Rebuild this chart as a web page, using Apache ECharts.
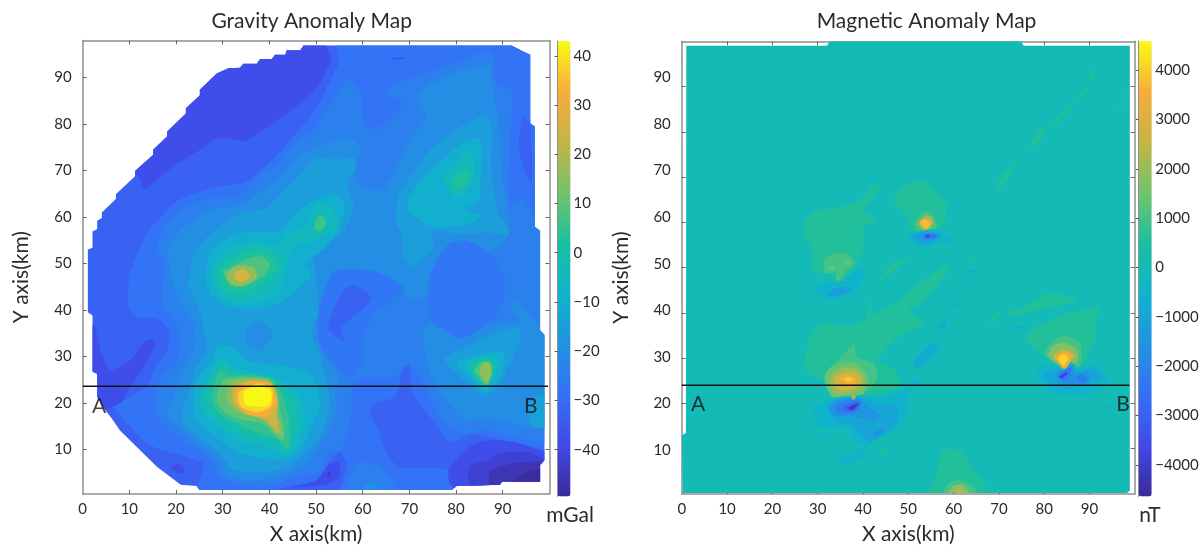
<!DOCTYPE html>
<html><head><meta charset="utf-8">
<script src="https://cdn.jsdelivr.net/npm/echarts@6/dist/echarts.min.js"></script>
<style>html,body{margin:0;background:#fff}#c{width:1203px;height:550px}canvas{filter:blur(.45px)}</style></head>
<body><div id="c"></div><script>
const tickValues=[10,20,30,40,50,60,70,80,90];
const xTickValues=[0,10,20,30,40,50,60,70,80,90];
const gravityTicks=[40,30,20,10,0,-10,-20,-30,-40];
const magneticTicks=[4000,3000,2000,1000,0,-1000,-2000,-3000,-4000];
const parula=['#3b2a98','#4049e8','#3570f8','#2192e2','#0fb4cc','#18c0a0','#72c46a','#c5b445','#f8ac3a','#f9fb15'];

const gravityOutline=[[1.1,39.5],[1.1,53],[2.1,53.4],[2.1,56.9],[3.1,57.4],[3.1,59.2],[4.1,59.8],[4.1,61],[7.1,63.9],[7.1,64.9],[11.2,68.8],[11.2,69.9],[15.1,73.4],[15.1,74.5],[18.1,77.4],[18.1,78.4],[22.1,82.3],[22.1,83.4],[25.1,86.2],[25.1,87.4],[28.7,90.9],[31.2,92],[33.7,92.1],[34.4,93],[37.3,93],[38,94],[40.5,94],[41.2,94.9],[43.4,94.9],[43.7,95.9],[46.6,95.9],[47.3,96.9],[91.9,96.9],[94.4,95.6],[95.9,94.9],[95.9,80.2],[96.9,79.5],[96.9,57.9],[98,57],[98,35.6],[98.9,34.7],[98.9,7.7],[98,6.7],[98,3.1],[89.8,3.1],[89.4,2.4],[80.1,2.15],[79.1,1.3],[25,1.3],[24.4,2.15],[21,2.4],[15.9,6.3],[8,14.1],[6.2,16.7],[5.1,18.1],[3.1,21.3],[3.1,26.3],[2.1,26.7],[2.1,38.8]];
const gravityContours=[
[-33,gravityOutline],
[-38,[[12.6,67.7],[13,65.9],[19.4,70.9],[25.1,74.5],[28,76.6],[30.9,77],[34.8,76.4],[42.3,81.3],[48,85.6],[51,89],[52,91.3],[53.2,93.4],[51.8,97.5],[47,99],[43,98],[40,97],[37,96],[33,95],[28,93],[24,89],[20,84],[16,79],[13,75],[11,70]]],
[-28,[[24,0],[100,0],[100,100],[54,100],[54.8,93.4],[52.6,88.4],[49.8,83],[41.6,73.4],[35.1,67.7],[28,66.3],[20.1,63.4],[13.7,56.3],[10.1,47.7],[9.8,40.6],[12,38.4],[15.9,38.1],[18.4,35.6],[18.4,32],[15.5,27.7],[13.7,23.4],[7.3,19.9],[6.6,19.1],[13,12],[16.6,9.9],[22.3,8.4],[25.9,7],[25.1,3.4]]],
[-24,[[17.3,49.9],[15.9,53.4],[18,58.8],[23.7,63.1],[28,64.1],[33.7,64.5],[37.3,68.4],[41.6,71.3],[45.1,75.5],[49.8,79.1],[53.4,84.9],[56.6,89.5],[59.1,87.7],[60.1,84.9],[59.8,81.3],[62.6,78.8],[68.4,84.1],[65.1,87],[65.9,88.4],[70.5,89.9],[78.4,92.7],[86.9,95.9],[88,94.9],[88.7,88.4],[91.9,87.4],[91.6,76.3],[91.6,62.7],[94.1,64.1],[97,60],[100,57],[100,12],[86.2,14.2],[81.9,13.4],[76.9,16.3],[72.6,25.2],[70.5,27.7],[68.7,27.7],[66.9,25.6],[58.4,24.9],[57.6,18.4],[56.9,14.2],[55.5,9.9],[52.6,9.5],[50.9,5.2],[45.1,4.2],[39.4,2],[33.7,2.4],[29.4,4.2],[27.6,7.7],[23.7,10.6],[19.4,13.4],[15.5,17.7],[15.9,22.7],[17.3,26.3],[19.8,28.4],[20.9,32.7],[19.8,37],[17.3,40.6],[16.9,42.7]]],
[-20,[[19,47],[18.4,53.4],[20.9,57],[26.6,61.3],[34.4,62.7],[37.3,64.9],[41.6,67.7],[45.9,72.7],[49.8,74.9],[56.9,77],[59.4,74.9],[58.4,69.1],[60.1,66.3],[64.4,65.9],[70.5,77],[73.7,81.3],[71.9,86.3],[78.4,90.6],[86.9,92.7],[87.6,89.9],[89.4,77.7],[89.8,69.1],[91.4,56.3],[86.9,52.4],[82.3,54.9],[78.4,54.1],[74.4,47.7],[74.1,43.1],[68.7,43.1],[69.1,45.2],[61.9,48.4],[54.1,48.4],[51.2,42.7],[50.1,37.7],[51.2,31.3],[54.8,25.6],[54,22.7],[54.4,18.4],[53.4,15.6],[50.9,11.3],[48,7],[42.3,4.2],[36.6,3.4],[30.9,4.2],[29.4,7.7],[25.9,10.6],[21.6,14.2],[18,17.7],[19.4,21.3],[21.6,27],[24.1,32.7],[23.7,37],[20.9,42]]],
[-20,[[73,35.6],[73.7,29.1],[75.1,24.9],[78.4,19.9],[81.9,16.3],[86.9,16.7],[95.5,14.9],[100,15.6],[100,35],[98,36.5],[95.5,39.2],[92.6,42],[91.9,40.6],[93.4,37.7],[87,36.7],[82.6,34.5],[80.5,33.8],[78.4,35.6],[74.4,37.4]]],
[-27,[[54,48.4],[61.9,48.4],[68.7,45.2],[66.9,42.7],[61.6,38.4],[60.1,33.1],[60.9,30.6],[57.6,25.2],[54,28.4],[50.5,33.8],[50.5,38.4],[52.6,45.6]]],
[-27,[[74.4,47.7],[78.4,54.1],[82.3,54.9],[86.9,52.4],[89.8,49],[90.5,47],[89.8,41.3],[86.9,37],[82.6,34.5],[80.5,33.8],[78.4,35.2],[74.8,37.4],[74.1,42.7]]],
[-33,[[58.4,45.4],[61.9,42.4],[57,37.7],[55.5,36.3],[55.9,33.4],[52.6,36],[54,40.6],[56.2,44.5]]],
[-33,[[94.4,81.6],[95.9,79.9],[96.2,67],[94.1,71.6],[93.5,76.3]]],
[-15,[[23,47.7],[24.1,52.7],[28,57],[33.7,60.6],[39.4,62],[43,65.6],[46.6,69.1],[49.8,72.7],[54.1,72.4],[58,72.7],[58.4,70.6],[56.6,67],[58,62.4],[56.2,57],[54.1,55.6],[49.8,52.7],[50.1,46.3],[50.5,39.2],[49.1,34.5],[50.9,30.2],[52,26.3],[53,19.9],[51.9,14.9],[49.8,11.3],[45.1,7],[40.1,5.2],[32.3,5.6],[29.4,9.2],[24.8,12.7],[21.2,16.3],[22.3,21.3],[24.1,27],[26.6,32],[26,36],[24.8,40.6],[22.6,45.6]]],
[-15,[[86.2,82],[87.5,80.2],[87.6,70.6],[88.7,62],[91.4,56.3],[86.9,56.6],[80.5,56.3],[75.1,57],[75.1,53.4],[72.6,50.6],[70.5,49.5],[68.7,51.3],[68.4,56.3],[67.3,58.4],[67.5,64.1],[70.5,69.1],[74.1,74.1],[80.5,79.1]]],
[-15,[[77.6,29.5],[83.4,32.7],[92.6,36.3],[94.1,34.5],[91.9,29.2],[89.4,23.8],[86.2,21.6],[81.2,25.2]]],
[-14,[[95.5,19.2],[96.9,21.3],[100,22],[100,14.9],[96.2,14.9]]],
[-10,[[85.1,77],[85.3,68.4],[84.8,63.4],[81.9,61.6],[85.5,60.2],[81.9,58.4],[74.8,57.9],[69.8,61.3],[69.8,63.4],[72.6,68.4],[77.6,72.7],[81.2,75.9]]],
[-3,[[82.3,74.5],[83.7,72.7],[83.9,68.4],[80.5,64.1],[78.7,65.6],[77.3,68.4],[80.5,72]]],
[3,[[82.3,70.2],[82.8,68.4],[80.5,65.9],[79.2,67.7]]],
[-10,[[26.2,47.7],[28,53.4],[33,56.3],[38,57],[42.3,57],[45.9,61.3],[49.4,63.4],[53.4,64.9],[56.2,62.7],[54.8,57],[52,53.4],[47.7,50],[49,47.7],[45.9,44.2],[41.7,41.3],[37,40.2],[31.6,40.6],[27.7,43.1]]],
[-10,[[29,32.4],[27.6,29.2],[24.4,24.9],[23.7,19.9],[24.4,16.3],[29.4,12],[33.7,9.2],[42.3,7.7],[46.6,9.9],[49.4,15.6],[50.9,19.9],[49.4,25.6],[45.1,27.7],[39.4,28.4],[35.1,29.2],[32.3,32]]],
[-20,[[35.1,36.3],[37.6,37.7],[40.9,34.9],[38,31.3],[35.5,32],[34.8,34.9]]],
[-5,[[27.7,47.7],[28.4,50.6],[31.6,53.4],[37.3,54.9],[41.6,54.1],[43.7,56.3],[48,58.4],[49.8,62.4],[52.6,62.7],[54.8,59.1],[53.4,57],[50.5,55.2],[45.1,53.4],[43.7,49.9],[43.4,47.7],[41.6,43.4],[36,41.3],[30.9,42],[28,45.6]]],
[-10,[[45.1,53.4],[46.2,52.7],[45.5,51.3],[44.8,51.6]]],
[-1,[[28.7,47.7],[30.1,50.6],[33.7,52.7],[38,53.8],[41.2,52.7],[42.6,50],[41,47],[37.6,43.4],[33,42.7],[29.4,44.9],[28,47.7]]],
[3,[[30.9,49.9],[33.7,51.6],[38,52.7],[40.5,51.3],[41.9,49.1],[39.6,47],[36.7,44.9],[33,43.8],[30.1,45.6],[29.4,48.4]]],
[8,[[31.6,49.1],[34.4,50.6],[38,51.6],[40.1,49.9],[39.1,47.7],[35.9,45.6],[33,44.9],[30.9,46.3],[30.1,48.4]]],
[16,[[36.6,49.2],[37.3,47],[34.4,45.2],[31.6,45.6],[30.9,47.7],[33,49.5]]],
[26,[[34.4,48.8],[35.9,47.4],[34.1,46],[32.6,46.7],[32.6,48.1]]],
[0,[[50.9,61.3],[52.3,59.9],[51.9,57],[49.8,56.3],[49.5,59]]],
[6,[[51.2,60.2],[52.3,58.8],[50.9,57],[49.8,57.7],[50,59.5]]],
[-5,[[29.4,29.9],[26.6,24.9],[24.8,20.6],[25.9,17.7],[30.1,14.2],[34.4,11.6],[39.4,10.6],[43.7,8.8],[45.9,11],[47.3,15.6],[46.6,21.3],[42.3,25.2],[38,26.3],[33,27.4],[30.9,28.8]]],
[0,[[29.8,28.4],[27.6,25.6],[26.2,21.3],[27.3,18.1],[31.6,14.9],[35.9,12.7],[40.1,12],[44.1,9.5],[45.1,12],[45.9,15.6],[45.1,20.6],[41,25.2],[37.3,26],[32.3,26.7]]],
[5,[[29.4,27],[28.4,24.9],[27.6,20.6],[29.4,17.7],[33,15.6],[38,13.4],[41.6,12.4],[43.7,10.2],[44.4,12.4],[44.1,17],[43,21.3],[40.5,25.2],[36.6,26],[31.6,26]]],
[10,[[30.1,24.9],[28.7,20.6],[30.9,17.7],[34.4,16.3],[38.6,15.6],[41.6,12.7],[43,12],[43.1,14.9],[42.3,18.4],[41.6,22.7],[39.4,25.2],[34.4,25.6]]],
[16,[[31.6,24.5],[30.9,20.6],[33,18.1],[38,16.7],[40.9,14.2],[42.6,13.1],[42.6,14.9],[41.6,18.4],[41.6,22],[40.1,24.9],[35.1,25.2]]],
[24,[[32.3,23.4],[32.3,20.2],[34.4,18.1],[39.4,16.3],[41.9,13.4],[41.6,17],[41.9,20.6],[40.5,24.1],[36.6,24.9]]],
[32,[[32.7,22.8],[33,19.7],[35.9,17.3],[39.7,17.2],[41.6,20.2],[40.1,24.2],[35.4,24.6]]],
[38,[[33.4,22.2],[33.8,19.3],[37.3,18],[40.4,19.3],[40.6,23],[37.6,24.2]]],
[42.5,[[34.5,22.3],[35,19.6],[39.8,19.4],[40.4,22.5],[37.5,23.8]]],
[-10,[[80.1,28.8],[83.4,30.2],[90.1,30.9],[90.5,29.2],[88.7,24.2],[86.2,22.4],[83.4,24.9]]],
[-5,[[81.9,28.4],[84.8,29.9],[88.4,30.2],[89.1,28.4],[87.6,24.2],[86.2,23.1],[83.7,25.2]]],
[2,[[83,27.7],[84.8,29.2],[87.3,29.5],[88.4,27.7],[87.3,24.5],[86.2,23.8],[84.1,25.6]]],
[8,[[83.9,27],[85.5,28.8],[87.3,28.8],[87.6,26.3],[86.6,23.8],[84.8,25.6]]],
[16,[[85.1,27],[85.9,28.7],[87.3,28.4],[87.6,26.3],[86.6,24.2],[85.5,25.6]]],
[-24,[[56.9,0],[57.3,4.2],[59.8,7.4],[63.4,6.3],[66.2,3.4],[67.3,0]]],
[-20,[[59,0],[61.9,3.4],[64.1,0]]],
[-33,[[61.9,19.2],[63,20.2],[66.9,21.3],[68,24.9],[69.1,28.1],[70.1,28.1],[70.5,22.7],[73.4,18.4],[77.6,12.7],[79.1,11.6],[83.4,13.4],[89.8,12],[99,9.9],[100,9.9],[100,1],[80,1.5],[78.6,2.7],[78.4,5.6],[74.8,6],[67.6,6.3],[64.8,9.9],[63.4,14.2],[61.9,17]]],
[-38,[[78.4,5.6],[80.5,8.4],[83.4,11],[87.6,12],[92.6,11.6],[99,9.5],[100,9.5],[100,1],[80,1.5],[78.6,2.7]]],
[-42,[[82.6,4.2],[83,6.6],[86.9,7.7],[89.1,9.2],[95.5,9.5],[98.4,8.1],[100,7],[100,1],[83.4,1]]],
[-46,[[87.3,5.2],[92,7],[97.6,7.4],[100,7.4],[100,1],[87.6,1]]],
[-49,[[92,3],[95.5,5.2],[97.8,5.7],[100,5.7],[100,1],[93,1]]],
[-33,[[39.4,0.5],[45.1,2.4],[50.9,3.4],[52.6,7],[55.1,9.5],[56.6,7],[55.9,3.4],[54,0.5]]],
[-38,[[50.1,3.4],[52.6,6.6],[54.8,7.4],[55.1,4.2],[52.6,2.7],[49.8,2.1],[45,1.9]]],
[-44,[[52.4,4.8],[53,5.2],[53,4.2],[52.5,4.2]]],
[-38,[[18.9,6.2],[20.5,6.8],[22,5.4],[20.6,4.8]]],
[-38,[[2.3,37],[4.1,30.6],[5.9,27.1],[10.1,29.2],[13.4,33.4],[15.1,33.6],[15.3,32],[13,27.7],[10.1,23.4],[8.4,20.2],[4.8,18.4],[3,16],[1,22],[1,27],[0.5,30]]],
[-36,[[65.9,94.2],[69.4,94.2],[67.7,93.8]]]
];

const magneticOutline=[[1,99],[32,99],[32.7,100],[74.8,100],[75.5,99],[98.9,99],[98.9,0.8],[98.3,0.2],[0.2,0.2],[0,13],[0.9,13.5]];
const magneticContours=[
[0,magneticOutline],
[600,[[26.8,59.4],[29,62.3],[34.9,63.4],[39.3,64.8],[41.9,67.8],[43.8,68.1],[41.9,65.2],[40.1,62.6],[43,60.5],[40.1,59],[40.1,54.2],[38.2,50.6],[36,46.9],[32.7,48.4],[29.4,49.1],[28.7,51.3],[29,54.2],[27.2,56.4]]],
[1000,[[31.2,51.3],[33.5,53.1],[36.4,53.1],[38.2,51],[36,49.1],[34.6,46.9],[33.8,47.7],[34.2,49.1],[32,48.8]]],
[1500,[[32.4,50.2],[33.8,50.2],[33.1,49.5]]],
[1500,[[36,51.2],[37.5,51.2],[36.8,50.6]]],
[-500,[[29,46.2],[32.7,46.9],[34.9,46.6],[36.8,48.4],[40.1,49.8],[40.4,47.7],[37.9,44.4],[32.7,43.1],[30.1,44]]],
[-1200,[[32.3,44.6],[35.3,45.8],[37.5,45.3],[35.7,44.1],[32.7,43.6]]],
[600,[[46.7,64.8],[48.9,68.1],[53.3,69.2],[56.3,66.7],[58.5,63.7],[57.7,59.4],[56.3,57.9],[51.1,57.9],[49.6,61.5]]],
[1000,[[51.5,60.1],[53.3,62.3],[54.8,62.3],[56.3,60.1],[55.9,58.3],[51.8,58.3]]],
[2000,[[52.2,59.7],[53.7,61.5],[55.2,61.2],[55.5,59.4],[54,58.3],[53,58.6]]],
[3000,[[52.4,60.1],[53.5,60.9],[55.2,60.4],[54.4,58.6],[53.7,58]]],
[3800,[[52.7,60.1],[53.7,60.5],[54.8,59.7],[54.1,58.6],[53.3,59.2]]],
[-500,[[50,56.8],[53.3,58.3],[57,58.3],[59.9,56.1],[58.5,55.3],[56.3,55.3],[53.3,54.2],[51.1,55]]],
[-1200,[[50.7,56.8],[53.3,57.9],[57,57.5],[56.6,56.1],[53.3,55.3]]],
[-2500,[[53.3,57.3],[56.3,57.3],[55.9,56.6],[53.7,56.3]]],
[-3800,[[53.7,57.2],[54.8,57.2],[54.4,56.6]]],
[600,[[43.4,46.9],[46,50.6],[50,52.4],[46.7,49.1],[44.1,46.9]]],
[600,[[27,28.1],[28.7,35.8],[32.1,37.7],[37.2,37],[40.6,38.9],[41.9,43.9],[41.9,39.6],[46.6,42],[52.1,46.2],[54.7,48.1],[58.5,50.8],[58.9,49.7],[56,45.8],[52.6,42],[50,40.8],[53.4,37.7],[48.3,35],[45.3,32.3],[43.2,29.6],[46.6,27.7],[48.3,24.2],[44.9,22.3],[38.1,21.9],[33.8,20.8],[32.1,24.2],[28.3,26.5]]],
[1000,[[32.1,27.3],[33.8,28.9],[38.1,33.1],[38.5,30.4],[42.3,28.9],[43.2,25.8],[41.5,23.1],[38.1,22.3],[33.8,21],[32.1,24.2]]],
[1400,[[31.6,26.5],[34.2,28.6],[38.6,29],[41.2,25.7],[40.1,22.1],[37.5,21.7],[33.5,21],[32,23.5]]],
[2000,[[32.7,25.4],[34.6,27.6],[38.2,27.9],[40.4,25.7],[39.7,23.2],[37.5,22.4],[33.8,22.1]]],
[2800,[[33.5,25.4],[35.7,26.8],[38.2,26.8],[39.7,25.4],[38.6,23.5],[36.4,22.8],[34.2,23.2]]],
[3400,[[34.6,25.4],[36.4,26.3],[38.2,25.7],[38.2,24.3],[36,23.9]]],
[3900,[[35.7,25.4],[36.8,25.9],[37.9,25.4],[36.8,24.6]]],
[-500,[[29,19.1],[32.3,21],[37.5,21.7],[43.8,21.3],[48.5,22.8],[51.5,25.4],[52.2,25],[50,21.3],[50,17.3],[47.4,14.4],[42.3,11.8],[40.1,10.7],[37.5,12.2],[36.8,14.8],[31.2,14.4],[29,17]]],
[-1000,[[32,19.1],[34.2,21],[39.7,21.3],[43,20.2],[47.8,19.5],[47.4,15.5],[43.8,12.6],[41.2,11.5],[37.9,14.8],[33.8,16.2]]],
[-1500,[[32.4,18.8],[34.2,20.6],[39.3,21.2],[41.2,19.1],[43.8,17.3],[42.3,16.2],[38.6,17],[33.8,17.3]]],
[-2200,[[33.8,19.1],[35.7,20.5],[39.3,20.6],[39.3,18.8],[36.8,17.8],[34.6,17.8]]],
[-3000,[[35.7,19.3],[38.2,20.2],[39.3,20.2],[38.2,18.4],[36.4,18.3]]],
[-4200,[[36.8,19.1],[38.2,19.7],[39,20],[38,18.8],[37.1,18.6]]],
[2500,[[37.3,21.7],[38.5,21.7],[37.9,20.8]]],
[-1500,[[42.3,13.7],[44.1,14.4],[44.5,13.3],[42.7,12.7]]],
[-500,[[29.4,13.3],[31.6,13.3],[31,12.3]]],
[-600,[[34.2,7.5],[37.9,8.5],[40.1,10.7],[40.8,10.7],[40.4,9.3],[39,7.4],[34.9,6.6]]],
[600,[[43.8,10],[44.5,10.2],[45.6,8.9],[44.9,8.8]]],
[-800,[[51.1,28.3],[51.5,29.7],[54.8,33],[57,32.7],[55.5,30.5],[52.6,27.9]]],
[600,[[75.9,33.9],[76.8,35.8],[81.5,38.5],[85.3,40],[90.8,40.8],[92.1,41.6],[91.2,37.3],[91.7,35],[89.5,30.4],[87.8,28.1],[84,28.9],[81.5,29.6],[78.1,31.9]]],
[600,[[72.5,40.4],[75.5,41.2],[81,44.3],[87.4,43.1],[84.9,42],[81,41.2],[72.5,39.3]]],
[1000,[[80.2,30.8],[81.3,33],[84.2,35.1],[87.9,33.4],[88.3,30.1],[87.2,27.2],[85,27.5],[83.1,28.3]]],
[1700,[[80.9,30.5],[82,32.7],[84.2,33.4],[86.8,32.3],[87.5,30.1],[86.4,28.3],[85,28.3],[83.1,28.7]]],
[-500,[[78.3,26.5],[79.8,28.3],[83.1,28.3],[84.2,27.6],[85.7,29.4],[87.5,27.9],[91.2,28.3],[94.5,25.7],[93.8,23.9],[87.9,21.7],[84.2,21.7],[79.8,23.9]]],
[2600,[[82,30.5],[83.9,31.9],[85.7,31.6],[86.8,30.5],[85.7,29],[84.6,27.5],[83.1,29]]],
[3400,[[82.4,30.1],[84.2,31.4],[86,31],[85.7,29.4],[84.2,27.8],[83.1,29]]],
[4100,[[83.1,30.1],[84.2,30.8],[85.3,30.1],[84.2,28.3]]],
[-1000,[[79.8,26.5],[82.8,27.6],[84.6,27.6],[86,28.6],[87.2,27.2],[90.9,27.6],[92.7,25.7],[87.9,23.5],[84.2,23.2],[81.3,24.3]]],
[-1600,[[82.8,26.5],[84.6,27.6],[86,28.3],[86.8,26.5],[89.7,26.8],[89.7,24.6],[86.4,24.3],[83.1,24.6]]],
[-2400,[[83.1,26.1],[85,27.6],[86,27.9],[85.7,26.1],[84.2,25]]],
[-2200,[[87.2,25.7],[88.3,26.5],[89.4,25.4],[88.3,24.6]]],
[-3800,[[83.3,25.9],[85,27],[85.1,26.5],[83.9,25.6]]],
[-1000,[[93.4,19.5],[94.5,19.1],[93.8,18.8]]],
[600,[[54.1,-1],[56.3,4.5],[57.7,9.6],[61.4,9.6],[64.4,5.3],[66.9,2.3],[66.6,-1]]],
[1000,[[57.7,-1],[58.8,2.3],[61.4,3.1],[64.4,1.6],[65.5,-1]]],
[1800,[[58.5,-1],[60,1.8],[62.2,2],[64,-1]]],
[2600,[[60.1,-1],[61.4,1.2],[62.9,-1]]],
[600,[[69.6,67],[70,69.3],[74.2,73.6],[72.1,69.7]]],
[600,[[76.8,76.7],[78.9,80.5],[80.6,80.7],[78.1,77]]],
[600,[[81,81.3],[86.1,86.1],[86.1,85.1],[81.9,81.3]]],
[600,[[86.6,87.1],[89.5,90.2],[89.3,88.8],[87,86.9]]],
[600,[[89.8,92.1],[91.2,93.9],[91.2,92.7],[90.1,91.5]]],
[600,[[96.1,85.1],[97.4,87.1],[96.8,85.1]]],
[600,[[97.6,88.2],[98.9,90.2],[98.9,88.8]]],
[600,[[67.4,37.7],[70.4,40.3],[70.4,39.3],[68.3,37.7]]],
[600,[[62.8,52],[65.3,52],[64,51.6]]],
[-800,[[62.8,49.3],[65.3,49.3],[64,48.8]]],
[-800,[[58.1,42.1],[61.5,42.1],[59.8,41.6]]],
[-800,[[56.8,36.9],[58.5,38.9],[58.1,36.6]]],
[-800,[[72.5,37],[76.4,37],[74.7,36.6]]],
[-500,[[32,55.2],[34.6,55.2],[33.3,54.8]]]
];
const gravityLine=[[0,23.6],[99.7,23.6]];
const magneticLine=[[0,24],[98.8,24]];
const gravityMarks=[[3.5,19.4,'A'],[96,19.4,'B']];
const magneticMarks=[[3.6,19.8,'A'],[97.4,19.8,'B']];

const FONT='Lato, "Open Sans", sans-serif', INK='#2b2b2b', FRAME='#8f8f8f';
const fix=s=>String(s).replace('-','\u2212');
function valAxis(o){return Object.assign({type:'value',splitLine:{show:false},axisLine:{show:true,onZero:false,lineStyle:{color:FRAME,width:1.5}},axisTick:{show:true,inside:true,length:4,lineStyle:{color:'#666'}},axisLabel:{show:false}},o);}
function frameX(grid,main){const tick={show:true,inside:true,length:4,lineStyle:{color:'#666'},customValues:tickValues};
 return valAxis({gridIndex:grid,min:0,max:100,position:main?'bottom':'top',axisTick:tick,
  axisLabel:main?{show:true,customValues:xTickValues,color:INK,fontFamily:FONT,fontSize:15,margin:8}:{show:false},
  name:main?'X axis(km)':'',nameLocation:'middle',nameGap:30,nameTextStyle:{color:INK,fontFamily:FONT,fontSize:21}});}
function frameY(grid,min,max,pos){const tick={show:true,inside:true,length:4,lineStyle:{color:'#666'},customValues:tickValues};
 return valAxis({gridIndex:grid,min:min,max:max,position:pos,axisTick:tick});}
function labelY(grid,min,max,gap){return valAxis({gridIndex:grid,min:min,max:max,position:'left',axisLine:{show:false},axisTick:{show:false},
  axisLabel:{show:true,customValues:tickValues,color:INK,fontFamily:FONT,fontSize:15,margin:11},
  name:'Y axis(km)',nameLocation:'middle',nameGap:gap,nameTextStyle:{color:INK,fontFamily:FONT,fontSize:21,padding:[0,20,0,0]}});}
function barY(grid,min,max,ticks){return valAxis({gridIndex:grid,min:min,max:max,position:'right',z:10,
  axisLine:{show:true,lineStyle:{color:FRAME,width:1}},
  axisTick:{show:true,inside:true,length:3,lineStyle:{color:'#555'},customValues:ticks},
  axisLabel:{show:true,customValues:ticks,formatter:fix,color:INK,fontFamily:FONT,fontSize:15,margin:3}});}
function bands(contours,outline,xi,yi,name){return {type:'custom',name:name,coordinateSystem:'cartesian2d',xAxisIndex:xi,yAxisIndex:yi,silent:true,clip:true,
  data:contours.map((c,i)=>[c[0],i]),dimensions:['level','band'],encode:{x:-1,y:-1},
  renderItem:(p,api)=>{const i=api.value(1),pts=contours[i][1].map(q=>api.coord(q));
    const base=i===0;
    return {type:'polygon',shape:{points:pts,smooth:base?0:0.22},
      clipPath:base?undefined:{type:'polygon',shape:{points:outline.map(q=>api.coord(q))}},
      style:{fill:api.visual('color')}};}};}
function hline(data,xi,yi){return {type:'line',data:data,xAxisIndex:xi,yAxisIndex:yi,symbol:'none',silent:true,lineStyle:{color:'#111',width:1.5},z:5};}
function marks(data,xi,yi){return {type:'scatter',data:data,xAxisIndex:xi,yAxisIndex:yi,symbolSize:0,silent:true,z:6,
  label:{show:true,position:'inside',formatter:p=>p.value[2],color:'#111',fontFamily:FONT,fontSize:21}};}
function vm(series,min,max,left){return {type:'continuous',seriesIndex:series,dimension:0,min:min,max:max,left:left,top:41,itemWidth:13,itemHeight:455.5,
  calculable:false,hoverLink:false,text:['',''],padding:0,inRange:{color:parula},textStyle:{fontSize:0}};}

const G=[{left:82.7,top:40.4,width:466.7,height:455.3},{left:681.8,top:41.3,width:453,height:456},
  {left:557.5,top:41,width:13,height:455.5},{left:1138.7,top:41,width:13.5,height:455.5}];
const hid=g=>({type:'value',gridIndex:g,min:0,max:1,show:false});
const tt={fontFamily:FONT,fontSize:21,fontWeight:'normal',color:INK};
const option={animation:false,backgroundColor:'#fff',
 title:[{text:'Gravity Anomaly Map',left:311.7,top:11,padding:0,textAlign:'center',textStyle:tt},
        {text:'Magnetic Anomaly Map',left:926.5,top:11,padding:0,textAlign:'center',textStyle:tt},
        {text:'mGal',left:570,top:505,padding:0,textAlign:'center',textStyle:tt},
        {text:'nT',left:1150,top:505,padding:0,textAlign:'center',textStyle:tt}],
 grid:G,
 xAxis:[frameX(0,true),frameX(0,false),frameX(1,true),frameX(1,false),hid(2),hid(3)],
 yAxis:[frameY(0,0.43,98,'left'),frameY(0,0.43,98,'right'),labelY(0,0.43,98,51),
        frameY(1,0,100,'left'),frameY(1,0,100,'right'),labelY(1,0.55,97.76,50),
        barY(2,-49.5,43,gravityTicks),barY(3,-4640,4590,magneticTicks)],
 visualMap:[vm(0,-49.5,43,557.5),vm(1,-4640,4590,1138.7)],
 series:[bands(gravityContours,gravityOutline,0,0,'Gravity'),bands(magneticContours,magneticOutline,2,3,'Magnetic'),
   hline(gravityLine,0,0),hline(magneticLine,2,3),marks(gravityMarks,0,0),marks(magneticMarks,2,3)]};
echarts.init(document.getElementById('c')).setOption(option);
</script></body></html>
